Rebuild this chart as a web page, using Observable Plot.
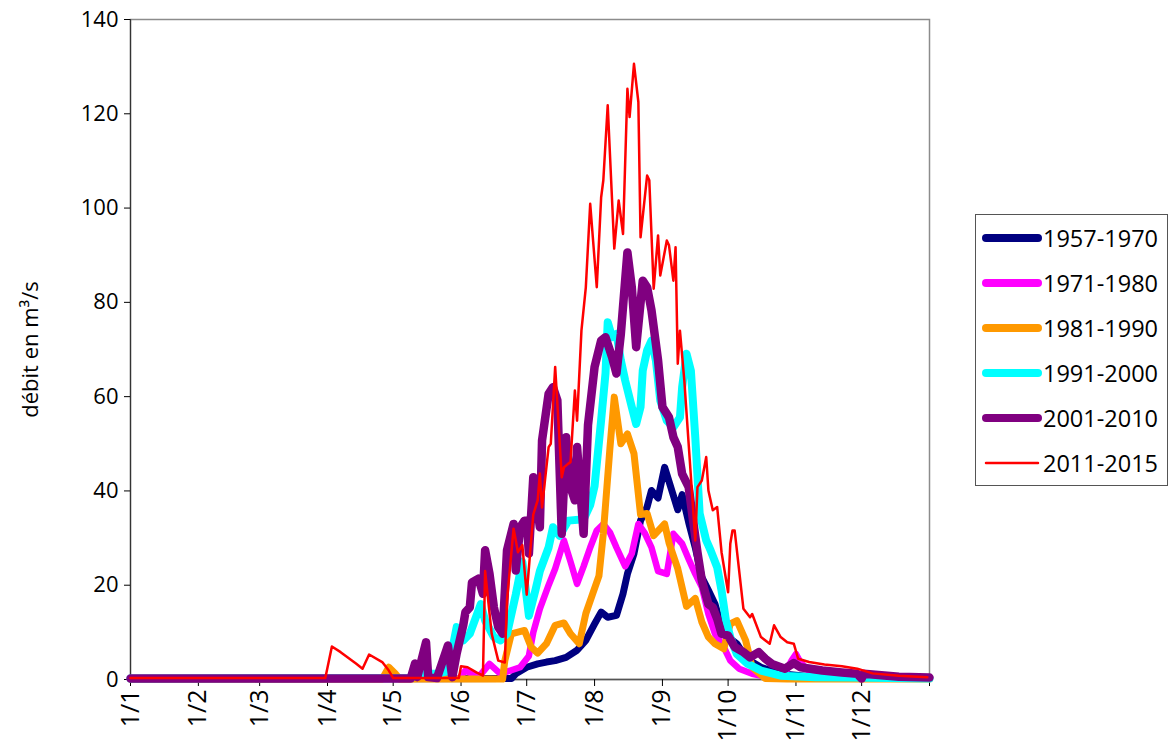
<!DOCTYPE html>
<html>
<head>
<meta charset="utf-8">
<script src="https://cdn.jsdelivr.net/npm/d3@7"></script>
<script src="https://cdn.jsdelivr.net/npm/@observablehq/plot@0.6"></script>
<style>
  html, body { margin: 0; padding: 0; background: #fff; }
  #wrap { position: relative; width: 1170px; height: 755px; font-family: "Open Sans", sans-serif; }
  #legend { position: absolute; left: 975px; top: 214px; width: 193px; height: 272px; border: 1px solid #555; background: #fff; box-sizing: border-box; }
  .row { position: absolute; left: 0; height: 30px; display: flex; align-items: center; }
  .row span { font-size: 23.5px; color: #000; line-height: 30px; }
</style>
</head>
<body>
<div id="wrap"><div id="chart"></div><div id="legend"></div></div>
<script>
// day of year (0 = 1 Jan) , discharge m3/s
const s1957 = [[0,0.1],[174,0.2],[176,1.2],[181,2.6],[186,3.3],[190,3.7],[194,4],[199,4.7],[204,6.2],[208,8.3],[212,11.8],[215,14.3],[218,13.2],[222,13.6],[225,18.2],[227,22.4],[230,26.7],[233,33.7],[236,36.6],[238,40.1],[241,38.5],[244,45],[247,40.5],[250,36],[252,39.2],[255,33.3],[258,28],[261,21.7],[264,18.9],[267,16],[270,11.1],[273,9],[277,7.6],[280,5.4],[284,3.7],[288,2.6],[297,1.2],[313,0.5],[365,0.2]];
const s1971 = [[0,0.2],[150,0.2],[153,1.9],[159,0.5],[164,3.3],[169,1.2],[178,2.6],[182,5],[184,10],[187,15],[191,20],[194,23.5],[198,29.5],[201,25],[204,20.3],[207,24],[210,28],[213,31.6],[216,33],[219,31.2],[222,28],[226,24],[229,26.7],[232,33],[235,31],[238,28],[241,23],[245,22.4],[248,30.9],[252,28.8],[255,25.5],[258,22.4],[261,19.6],[264,13.9],[267,9.7],[271,6.9],[274,4],[278,2.3],[284,1.2],[291,0.5],[298,0.5],[302,4],[304,5.4],[306,3.7],[311,1.2],[316,0.3],[365,0.2]];
const s1981 = [[0,0.1],[115,0.1],[118,2.6],[121,1.2],[123,0.1],[170,0.1],[171,4],[174,9.7],[180,10.4],[183,6.9],[186,5.6],[190,7.6],[194,11.5],[198,12],[201,9.7],[205,7.6],[208,14],[211,18],[214,22],[216,31],[219,49],[221,59.9],[224,50],[227,52.1],[230,47.9],[233,35],[236,35.2],[239,30.5],[244,33],[246,29],[250,23.5],[254,15.5],[258,17.2],[261,12.2],[264,9],[267,7.6],[271,6.5],[274,11.8],[277,12.5],[281,8.3],[284,2.6],[290,0.2],[300,0.1],[365,0.1]];
const s1991 = [[0,0.2],[128,0.3],[131,1.2],[140,1.2],[145,1.8],[149,11.1],[152,8.3],[155,9.7],[160,16],[162,12.5],[166,9],[169,8.3],[172,9.7],[176,18],[179,25],[182,13.5],[185,19],[187,23],[191,28],[193,32.3],[196,30.5],[200,33.7],[207,34],[210,37],[212,41],[215,55],[217,65],[218,75.8],[220,72.6],[222,73.3],[224,67.7],[226,63.4],[229,57.8],[231,54.2],[233,57.8],[234,65.5],[236,69.8],[238,71.9],[240,67.7],[242,59.2],[245,54.9],[248,53.5],[251,55.6],[252,62],[254,69.1],[256,65.5],[258,51.4],[260,35.2],[263,29.5],[265,27.4],[268,23.8],[270,18.9],[272,12.5],[274,9],[277,5.4],[282,3.3],[288,1.9],[297,0.8],[313,0.5],[328,0.4],[365,0.2]];
const s2001 = [[0,0.2],[128,0.2],[130,3.4],[131,0.5],[135,7.9],[136,0.5],[140,0.3],[145,7.2],[147,0.5],[149,5.5],[152,11.5],[153,14.3],[155,15.3],[156,20.6],[159,21.4],[161,18.2],[162,27.4],[164,22.4],[166,15.3],[168,11.1],[170,9.7],[172,27.4],[175,33],[176,23.1],[178,32.3],[180,33.7],[181,33.7],[182,26.7],[184,42.9],[187,32.3],[188,50.7],[191,60.6],[193,62],[195,59.2],[197,30.9],[199,51.4],[201,40.8],[203,38],[204,49.3],[207,30.9],[209,54],[212,66.3],[215,71.9],[217,72.6],[220,68.4],[222,64.9],[224,73.3],[227,90.6],[229,83.2],[231,70.5],[234,84.6],[236,83.2],[238,78.3],[241,67.7],[243,57.8],[246,55.6],[248,51.4],[250,49.3],[252,43.6],[255,40.8],[257,33.7],[259,27],[261,21],[264,16],[266,15.3],[268,12.9],[270,9.7],[273,9.3],[276,6.9],[280,5.8],[283,4.7],[287,5.8],[290,4.4],[293,3.3],[299,2.3],[303,3.5],[306,2.6],[316,1.9],[325,1.5],[332,1.2],[334,0.2],[335,1.2],[351,0.6],[365,0.4]];
const s2011 = [[0,0.3],[89,0.3],[92,7.0],[96,5.8],[103,3.4],[106,2.3],[109,5.3],[115,3.7],[118,1.9],[120,0.3],[150,0.3],[151,2.8],[154,2.6],[158,1.5],[161,0.8],[162,23],[165,9.7],[168,4],[171,3.6],[172,16.8],[175,32],[177,27],[179,28.5],[181,18],[184,35],[186,38],[187,43.7],[188,36.5],[191,49.3],[192,50],[194,66.3],[197,42.9],[198,45],[200,45.8],[201,46.1],[203,61.3],[204,54.9],[206,74],[208,83.2],[210,100.9],[213,83.2],[215,102.3],[216,105.9],[218,121.8],[221,91.4],[223,101.6],[225,94.5],[227,125.3],[228,119.3],[230,130.6],[232,122.5],[233,93.8],[236,106.9],[237,105.9],[239,82.9],[241,94.2],[242,85.7],[245,93.1],[246,92.1],[248,84.6],[249,91.7],[250,67],[251,74],[253,63.4],[258,29.5],[259,40.8],[261,42.2],[263,47.2],[264,40.1],[266,35.9],[268,36.6],[270,27],[273,18.5],[274,28.8],[275,31.6],[276,31.6],[280,15],[283,13.2],[284,13.9],[288,9],[292,7.6],[294,11.5],[297,9],[300,7.9],[303,7.6],[305,4.4],[310,3.7],[317,3.2],[325,2.8],[332,2.3],[339,1.3],[351,0.8],[364,0.5]];

const seriesNames = ["1957-1970","1971-1980","1981-1990","1991-2000","2001-2010","2011-2015"];
const seriesData = [s1957, s1971, s1981, s1991, s2001, s2011];
const seriesColors = ["#000080","#ff00ff","#ff9900","#00ffff","#800080","#ff0000"];
const seriesWidths = [7, 6.5, 7, 8, 8.5, 2.5];

const monthTicks = [0,31,59,90,120,151,181,212,243,273,304,334,365];
const monthLabels = ["1/1","1/2","1/3","1/4","1/5","1/6","1/7","1/8","1/9","1/10","1/11","1/12",""];
const yTicks = [0,20,40,60,80,100,120,140];

const lineMarks = seriesData.map((s, i) =>
  Plot.line(s, {x: d => d[0], y: d => d[1], stroke: seriesColors[i], strokeWidth: seriesWidths[i], strokeLinejoin: "round", strokeLinecap: "round"})
);

const chart = Plot.plot({
  width: 1170,
  height: 755,
  marginLeft: 130,
  marginTop: 19,
  marginRight: 241,
  marginBottom: 76,
  style: {fontFamily: "Open Sans", color: "#000", background: "transparent"},
  x: {domain: [0, 365]},
  y: {domain: [0, 140]},
  marks: [
    Plot.frame({stroke: "#8c8c8c", strokeWidth: 1.5}),
    Plot.ruleX([0], {stroke: "#333", strokeWidth: 1.2}),
    Plot.ruleY([0], {stroke: "#555", strokeWidth: 1.5}),
    Plot.axisY({ticks: yTicks, tickSize: 6, tickPadding: 6, fontSize: 22, label: "débit en m³/s", labelAnchor: "center", labelArrow: "none", labelOffset: 108}),
    Plot.axisX({ticks: monthTicks, tickFormat: d => monthLabels[monthTicks.indexOf(d)], tickRotate: -90, tickSize: 7, tickPadding: 3, fontSize: 25, label: null}),
    ...lineMarks
  ]
});
document.getElementById("chart").appendChild(chart);

// legend
const legend = d3.select("#legend");
seriesNames.forEach((name, i) => {
  const row = legend.append("div").attr("class", "row").style("top", (i * 45 + 8) + "px");
  const svg = row.append("svg").attr("width", 67).attr("height", 30);
  svg.append("line").attr("x1", 10).attr("x2", 62).attr("y1", 15).attr("y2", 15)
    .attr("stroke", seriesColors[i]).attr("stroke-width", i === 5 ? 2.5 : 8).attr("stroke-linecap", "round");
  row.append("span").text(name);
});
</script>
</body>
</html>
